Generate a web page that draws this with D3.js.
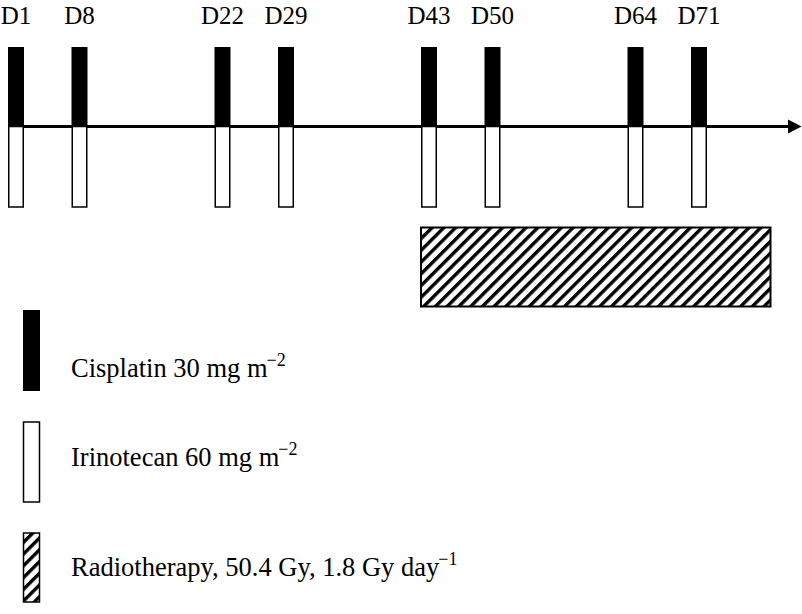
<!DOCTYPE html>
<html>
<head>
<meta charset="utf-8">
<script src="https://cdn.jsdelivr.net/npm/d3@7/dist/d3.min.js"></script>
<style>
  html, body { margin: 0; padding: 0; background: #fff; }
  svg { display: block; }
  text { font-family: "Liberation Serif", "Times New Roman", serif; fill: #000; }
</style>
</head>
<body>
<svg id="chart" width="802" height="614"></svg>
<script>
// ---- data ----
const doseDays = [1, 8, 22, 29, 43, 50, 64, 71];
const dayLabels = ["D1", "D8", "D22", "D29", "D43", "D50", "D64", "D71"];
const radioStartDay = 43;
const radioEndDay = 78;
const cycleLength = 21;
const legendNames = ["Cisplatin 30 mg m", "Irinotecan 60 mg m", "Radiotherapy, 50.4 Gy, 1.8 Gy day"];
const legendSups = ["\u22122", "\u22122", "\u22121"];
const legendKinds = ["cis", "iri", "rt"];

// ---- layout ----
const W = 802, H = 614;
const svg = d3.select("#chart");
const barW = 16;
const axisY = 126.5;
const yTop = d3.scaleLinear().domain([0, 1]).range([axisY, 47]);   // cisplatin bar height
const yBot = d3.scaleLinear().domain([0, 1]).range([axisY, 207]);  // irinotecan bar height

// schematic time scale: cycles (3-week) + day within cycle
const cycleX = d3.scaleLinear().domain([0, 3]).range([16, 635.5]);
const withinX = d3.scaleLinear().domain([0, 7]).range([0, 63.5]);
const x = d => cycleX(Math.floor((d - 1) / cycleLength)) + withinX((d - 1) % cycleLength);

// hatch pattern
const defs = svg.append("defs");
const P = 8.3;
const pat = defs.append("pattern")
  .attr("id", "hatch")
  .attr("patternUnits", "userSpaceOnUse")
  .attr("width", P).attr("height", P)
  .attr("patternTransform", "rotate(45)");
pat.append("rect").attr("width", P).attr("height", P).attr("fill", "#fff");
pat.append("line").attr("x1", 1.7).attr("y1", 0).attr("x2", 1.7).attr("y2", P)
  .attr("stroke", "#000").attr("stroke-width", 3.4);

// axis line with arrow
const axisEnd = 790;
svg.append("line")
  .attr("x1", x(doseDays[0])).attr("x2", axisEnd)
  .attr("y1", axisY).attr("y2", axisY)
  .attr("stroke", "#000").attr("stroke-width", 3);
svg.append("path")
  .attr("d", `M${axisEnd - 2},${axisY - 7} L${W - 0.5},${axisY} L${axisEnd - 2},${axisY + 7} Z`)
  .attr("fill", "#000");

// cisplatin bars (black, above)
svg.selectAll("rect.cis").data(doseDays).join("rect")
  .attr("class", "cis")
  .attr("x", d => x(d) - barW / 2)
  .attr("y", yTop(1))
  .attr("width", barW)
  .attr("height", yTop(0) - yTop(1))
  .attr("fill", "#000");

// irinotecan bars (white, below)
svg.selectAll("rect.iri").data(doseDays).join("rect")
  .attr("class", "iri")
  .attr("x", d => x(d) - barW / 2 + 0.75)
  .attr("y", yBot(0))
  .attr("width", barW - 1.5)
  .attr("height", yBot(1) - yBot(0))
  .attr("fill", "#fff")
  .attr("stroke", "#000").attr("stroke-width", 1.5);

// day labels
svg.selectAll("text.day").data(doseDays).join("text")
  .attr("class", "day")
  .attr("x", d => x(d))
  .attr("y", 23.5)
  .attr("text-anchor", "middle")
  .attr("font-size", 25)
  .text((d, i) => dayLabels[i]);

// radiotherapy block
const rtX0 = x(radioStartDay) - barW / 2;
const rtX1 = x(radioEndDay) + barW / 2;
svg.append("rect")
  .attr("x", rtX0).attr("y", 227.5)
  .attr("width", rtX1 - rtX0).attr("height", 79)
  .attr("fill", "url(#hatch)")
  .attr("stroke", "#000").attr("stroke-width", 2);

// legend
const legTops = [310, 422, 533];
const legBars = [81, 80, 69];
const legBaselines = [377, 466, 576];
const legX = 23.5;
legendKinds.forEach((k, i) => {
  const r = svg.append("rect")
    .attr("x", legX).attr("y", legTops[i])
    .attr("width", barW).attr("height", legBars[i]);
  if (k === "cis") r.attr("fill", "#000").attr("x", legX - 0.5).attr("width", barW + 1);
  else if (k === "iri") r.attr("fill", "#fff").attr("stroke", "#000").attr("stroke-width", 1.5);
  else r.attr("fill", "url(#hatch)").attr("stroke", "#000").attr("stroke-width", 1.5);

  const t = svg.append("text")
    .attr("x", 71).attr("y", legBaselines[i])
    .attr("font-size", 26.5);
  t.append("tspan").text(legendNames[i]);
  t.append("tspan").attr("font-size", 18).attr("dy", -11).attr("dx", -1).text(legendSups[i]);
});
</script>
</body>
</html>
